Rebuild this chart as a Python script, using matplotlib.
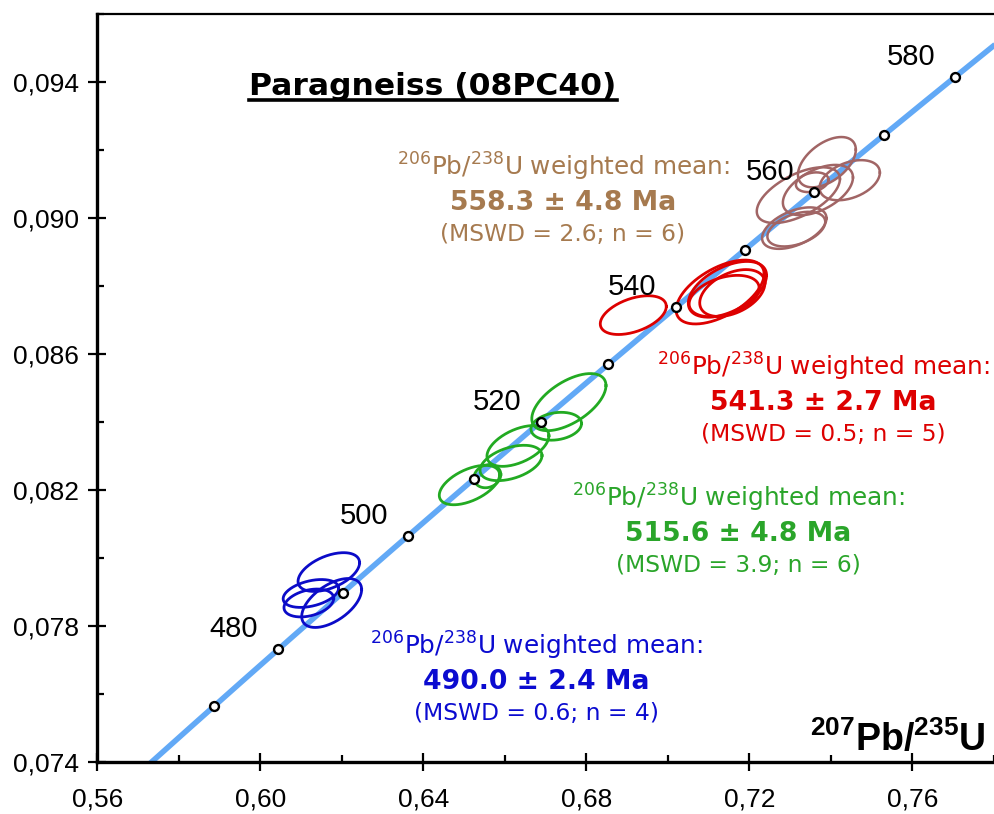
import numpy as np
import matplotlib
matplotlib.use("Agg")
import matplotlib.pyplot as plt
from matplotlib.lines import Line2D

plt.rcParams['mathtext.fontset'] = 'custom'
plt.rcParams['mathtext.rm'] = 'Liberation Sans'
plt.rcParams['mathtext.bf'] = 'Liberation Sans:bold'

# ---------------- data ----------------
L238 = 1.55125e-10
L235 = 9.8485e-10
tick_ages = [470, 480, 490, 500, 510, 520, 530, 540, 550, 560, 570, 580]
label_ages = [480, 500, 520, 540, 560, 580]

x_ticks = [0.56, 0.60, 0.64, 0.68, 0.72, 0.76]
x_ticklabels = ['0,56', '0,60', '0,64', '0,68', '0,72', '0,76']
y_ticks = [0.074, 0.078, 0.082, 0.086, 0.090, 0.094]
y_ticklabels = ['0,074', '0,078', '0,082', '0,086', '0,090', '0,094']

blue_x = [0.6168, 0.6124, 0.6119, 0.6175]
blue_y = [0.07958, 0.07895, 0.07867, 0.07867]
blue_hx = [0.00755, 0.0068, 0.0061, 0.00735]
blue_hy = [0.00057, 0.00041, 0.00041, 0.00072]
blue_rho = [0.48, 0.38, 0.33, 0.55]

green_x = [0.6757, 0.6726, 0.6632, 0.6615, 0.6513, 0.6557]
green_y = [0.08458, 0.08387, 0.08329, 0.08279, 0.08214, 0.08240]
green_hx = [0.0091, 0.0062, 0.0076, 0.0076, 0.0074, 0.0033]
green_hy = [0.00084, 0.00041, 0.00060, 0.00052, 0.00058, 0.00034]
green_rho = [0.58, 0.2, 0.5, 0.42, 0.52, 0.15]

red_x = [0.6915, 0.7128, 0.7146, 0.7158, 0.7138]
red_y = [0.08714, 0.08782, 0.08790, 0.08779, 0.08770]
red_hx = [0.0081, 0.0108, 0.0096, 0.0080, 0.0086]
red_hy = [0.00057, 0.00094, 0.00082, 0.00069, 0.00061]
red_rho = [0.45, 0.56, 0.5, 0.42, 0.38]

brown_x = [0.7390, 0.7446, 0.7354, 0.7320, 0.7368, 0.7310, 0.7315]
brown_y = [0.09164, 0.09111, 0.09105, 0.09067, 0.09082, 0.08970, 0.08967]
brown_hx = [0.0071, 0.0074, 0.0040, 0.0102, 0.0086, 0.0079, 0.0071]
brown_hy = [0.00074, 0.00059, 0.00029, 0.00082, 0.00074, 0.00061, 0.00051]
brown_rho = [0.5, 0.38, 0.25, 0.58, 0.5, 0.48, 0.42]

mean_ages = [558.3, 541.3, 515.6, 490.0]
mean_errs = [4.8, 2.7, 4.8, 2.4]
mean_mswd = [2.6, 0.5, 3.9, 0.6]
mean_n = [6, 5, 6, 4]

# ---------------- figure ----------------
W, H = 994, 814
fig = plt.figure(figsize=(W / 100, H / 100), dpi=100)
ax = fig.add_axes([97.3 / W, 52.3 / H, (W - 97.3) / W, (761.7 - 14) / H])
ax.set_xlim(0.56, 0.7779)
ax.set_ylim(0.074, 0.09599)

# concordia
t = np.linspace(440, 620, 600) * 1e6
cx = np.exp(L235 * t) - 1
cy = np.exp(L238 * t) - 1
ax.plot(cx, cy, color='#62a9f6', lw=4.0, zorder=2, solid_capstyle='butt')

ta = np.array(tick_ages) * 1e6
ax.plot(np.exp(L235 * ta) - 1, np.exp(L238 * ta) - 1, 'o', ms=6.4,
        mfc='white', mec='black', mew=1.7, zorder=5, clip_on=True)

for a in label_ages:
    xa = np.exp(L235 * a * 1e6) - 1
    ya = np.exp(L238 * a * 1e6) - 1
    ax.annotate(str(a), (xa, ya), xytext=(-31.7, 14.4), textcoords='offset points',
                ha='center', va='center', fontsize=21, family='Liberation Sans',
                color='black', zorder=6)

# ellipses
th = np.linspace(0, 2 * np.pi, 200)

def draw_group(xs, ys, hxs, hys, rhos, color, lw):
    for x0, y0, hx, hy, r in zip(xs, ys, hxs, hys, rhos):
        ex = x0 + hx * np.cos(th)
        ey = y0 + hy * (r * np.cos(th) + np.sqrt(1 - r * r) * np.sin(th))
        ax.plot(ex, ey, color=color, lw=lw, zorder=3)

draw_group(blue_x, blue_y, blue_hx, blue_hy, blue_rho, '#0b0bc8', 2.0)
draw_group(green_x, green_y, green_hx, green_hy, green_rho, '#22aa22', 2.0)
draw_group(red_x, red_y, red_hx, red_hy, red_rho, '#dd0000', 2.0)
draw_group(brown_x, brown_y, brown_hx, brown_hy, brown_rho, '#a16565', 1.8)

# axes styling
ax.spines['right'].set_visible(False)
ax.spines['left'].set_linewidth(2.4)
ax.spines['bottom'].set_linewidth(2.4)
ax.spines['top'].set_linewidth(1.6)

ax.set_xticks(x_ticks)
ax.set_xticklabels(x_ticklabels)
ax.set_yticks(y_ticks)
ax.set_yticklabels(y_ticklabels)
ax.set_xticks([v + 0.02 for v in x_ticks], minor=True)
ax.set_yticks([v + 0.002 for v in y_ticks[:-1]] + [0.096], minor=True)
ax.tick_params(axis='both', which='major', direction='inout', length=13, width=1.6,
               labelsize=19)
ax.tick_params(axis='both', which='minor', direction='in', length=5, width=1.6)
ax.tick_params(axis='x', which='major', pad=12)
ax.tick_params(axis='y', which='major', pad=7)
for lab in ax.get_xticklabels() + ax.get_yticklabels():
    lab.set_family('Liberation Sans')

# title
title = fig.text(433 / W, 1 - 95 / H, 'Paragneiss (08PC40)', ha='center', va='baseline',
                 fontsize=22.6, weight='bold', family='DejaVu Sans')

# axis label
fig.text(986 / W, 1 - 751 / H, r'$^{\mathbf{207}}$Pb/$^{\mathbf{235}}$U', ha='right',
         va='baseline', fontsize=27, weight='bold', family='Liberation Sans',
         math_fontfamily='custom')

# weighted mean annotations
ann_colors = ['#a67a4f', '#dd0000', '#2aa52a', '#0b0bd0']
ann_x = [563, 823, 738, 536]
ann_base = [176, 376, 507, 655]
for i in range(4):
    c = ann_colors[i]
    xf = ann_x[i] / W
    b = ann_base[i]
    fig.text(xf, 1 - b / H, r'$^{206}$Pb/$^{238}$U weighted mean:', ha='center',
             va='baseline', fontsize=17.8, color=c, family='DejaVu Sans',
             math_fontfamily='dejavusans')
    fig.text(xf, 1 - (b + 34) / H, f'{mean_ages[i]:.1f} ± {mean_errs[i]:.1f} Ma',
             ha='center', va='baseline', fontsize=19.2, weight='bold', color=c,
             family='DejaVu Sans')
    fig.text(xf, 1 - (b + 65) / H, f'(MSWD = {mean_mswd[i]:.1f}; n = {mean_n[i]})',
             ha='center', va='baseline', fontsize=16.8, color=c, family='DejaVu Sans')

# underline for title
fig.canvas.draw()
bb = title.get_window_extent()
fig.add_artist(Line2D([bb.x0 / W, bb.x1 / W], [1 - 99.5 / H, 1 - 99.5 / H],
                      transform=fig.transFigure, color='black', lw=2.6))

fig.savefig('out.png', dpi=100)
